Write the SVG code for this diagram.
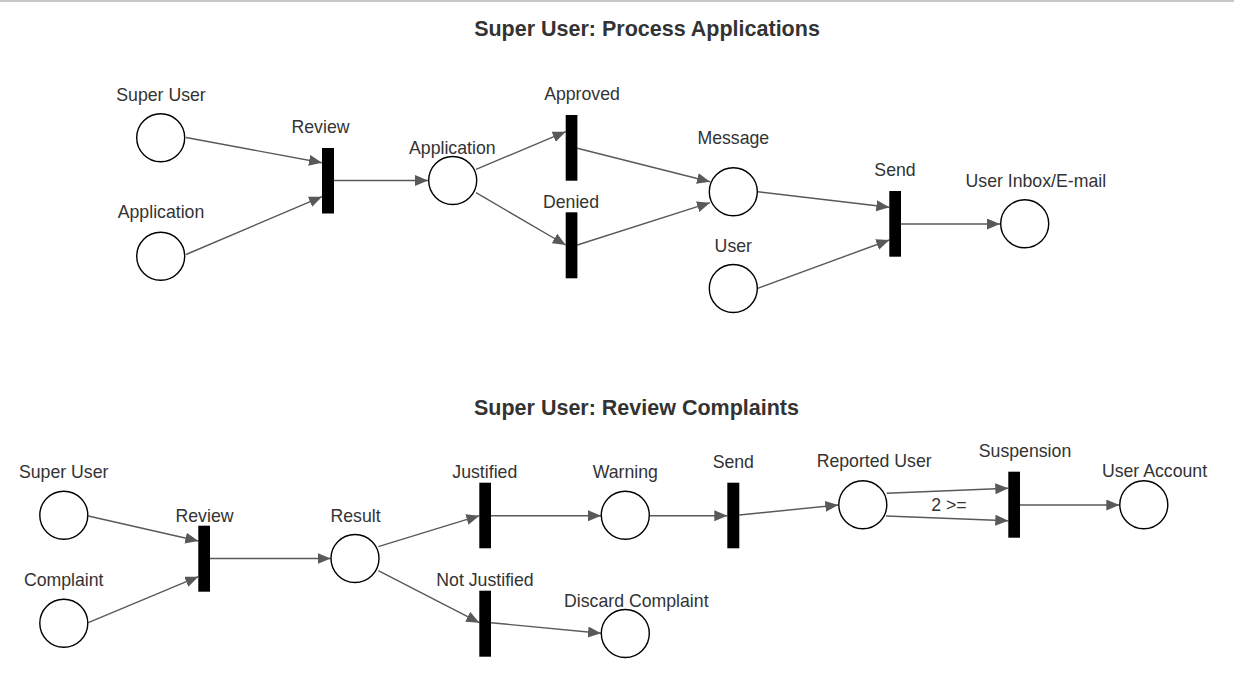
<svg xmlns="http://www.w3.org/2000/svg" width="1234" height="677" viewBox="0 0 1234 677">
<style>
.bg{fill:#ffffff}
.place{fill:#ffffff;stroke:#000000;stroke-width:1.4}
.trans{fill:#000000;stroke:none}
.lbl{font-family:"Liberation Sans",Arial,sans-serif;font-size:17.7px;fill:#333333;text-anchor:middle}
.title{font-family:"Liberation Sans",Arial,sans-serif;font-size:21.5px;font-weight:bold;fill:#333333;text-anchor:middle}
.arc{fill:none;stroke:#595959;stroke-width:1.4;marker-end:url(#arr)}
</style>
<defs>
<marker id="arr" markerUnits="userSpaceOnUse" markerWidth="14" markerHeight="12" refX="13" refY="5.5" orient="auto">
<path d="M0,0 L13,5.5 L0,11 z" fill="#595959"/>
</marker>
</defs>
<rect class="bg" x="0" y="0" width="1234" height="677"/>
<rect x="0" y="0" width="1234" height="2" fill="#c8c8c8"/>

<text class="title" x="647" y="36">Super User: Process Applications</text>
<text class="title" x="636.5" y="415">Super User: Review Complaints</text>

<g id="connectors">
<line class="arc" x1="186" y1="137.5" x2="322" y2="162.7"/>
<line class="arc" x1="186" y1="254.5" x2="322" y2="196.7"/>
<line class="arc" x1="334" y1="180.5" x2="428" y2="180.5"/>
<line class="arc" x1="476" y1="169.3" x2="565.7" y2="131.7"/>
<line class="arc" x1="476" y1="192.7" x2="565.7" y2="245"/>
<line class="arc" x1="577.3" y1="148.3" x2="710" y2="181.7"/>
<line class="arc" x1="577.3" y1="245" x2="710" y2="202.7"/>
<line class="arc" x1="757.7" y1="191.7" x2="889.3" y2="207.3"/>
<line class="arc" x1="757.7" y1="288.3" x2="889.3" y2="240"/>
<line class="arc" x1="901" y1="224" x2="1000" y2="224"/>

<line class="arc" x1="88.3" y1="516" x2="198.3" y2="541"/>
<line class="arc" x1="88.3" y1="622.7" x2="198.3" y2="576.7"/>
<line class="arc" x1="210" y1="558.5" x2="330.7" y2="558.5"/>
<line class="arc" x1="378.3" y1="546.7" x2="479.3" y2="515.7"/>
<line class="arc" x1="378.3" y1="570.7" x2="479.3" y2="622.7"/>
<line class="arc" x1="491" y1="515.7" x2="601" y2="515.7"/>
<line class="arc" x1="649.7" y1="515.7" x2="727.3" y2="515.7"/>
<line class="arc" x1="491" y1="622.7" x2="601" y2="633.3"/>
<line class="arc" x1="739.3" y1="515" x2="838.3" y2="505"/>
<line class="arc" x1="886.7" y1="493.3" x2="1008.3" y2="488.3"/>
<line class="arc" x1="886" y1="516" x2="1008.3" y2="520.7"/>
<line class="arc" x1="1020" y1="505" x2="1119.3" y2="505"/>
<text class="lbl" x="949" y="510.7">2 &gt;=</text>
</g>

<!-- Top net -->
<g id="p-superuser1"><circle class="place" cx="160.7" cy="137.7" r="24"/><text class="lbl" x="161" y="100.7">Super User</text></g>
<g id="p-application1"><circle class="place" cx="160.7" cy="256.2" r="24"/><text class="lbl" x="161" y="218.3">Application</text></g>
<g id="t-review1"><rect class="trans" x="322" y="148" width="12" height="65.5"/><text class="lbl" x="320.5" y="133.3">Review</text></g>
<g id="p-application2"><circle class="place" cx="452.7" cy="180.5" r="24"/><text class="lbl" x="452.3" y="154">Application</text></g>
<g id="t-approved"><rect class="trans" x="565.7" y="115" width="11.7" height="65.7"/><text class="lbl" x="582" y="100">Approved</text></g>
<g id="t-denied"><rect class="trans" x="565.7" y="212.3" width="11.7" height="66"/><text class="lbl" x="571" y="207.7">Denied</text></g>
<g id="p-message"><circle class="place" cx="733.3" cy="191.7" r="24"/><text class="lbl" x="733.3" y="144">Message</text></g>
<g id="p-user"><circle class="place" cx="733.3" cy="288.5" r="24"/><text class="lbl" x="733.3" y="251.7">User</text></g>
<g id="t-send1"><rect class="trans" x="889.3" y="191" width="11.7" height="65.7"/><text class="lbl" x="895" y="175.7">Send</text></g>
<g id="p-inbox"><circle class="place" cx="1024.7" cy="223.8" r="24"/><text class="lbl" x="1035.8" y="186.7">User Inbox/E-mail</text></g>

<!-- Bottom net -->
<g id="p-superuser2"><circle class="place" cx="63.8" cy="515.3" r="24"/><text class="lbl" x="63.7" y="478.3">Super User</text></g>
<g id="p-complaint"><circle class="place" cx="63.8" cy="623.3" r="24"/><text class="lbl" x="63.7" y="585.7">Complaint</text></g>
<g id="t-review2"><rect class="trans" x="198.3" y="525.7" width="11.7" height="66"/><text class="lbl" x="204.5" y="521.7">Review</text></g>
<g id="p-result"><circle class="place" cx="355" cy="558.5" r="24"/><text class="lbl" x="355.5" y="521.7">Result</text></g>
<g id="t-justified"><rect class="trans" x="479.3" y="482.7" width="11.7" height="65.6"/><text class="lbl" x="484.8" y="477.7">Justified</text></g>
<g id="t-notjustified"><rect class="trans" x="479.3" y="590.7" width="11.7" height="66"/><text class="lbl" x="485" y="585.7">Not Justified</text></g>
<g id="p-warning"><circle class="place" cx="625.3" cy="515.3" r="24"/><text class="lbl" x="625.3" y="477.7">Warning</text></g>
<g id="p-discard"><circle class="place" cx="625.3" cy="633.5" r="24"/><text class="lbl" x="636.3" y="606.7">Discard Complaint</text></g>
<g id="t-send2"><rect class="trans" x="727.3" y="482.7" width="12" height="65.6"/><text class="lbl" x="733.3" y="467.7">Send</text></g>
<g id="p-reported"><circle class="place" cx="862.8" cy="504.7" r="24"/><text class="lbl" x="874.2" y="467.3">Reported User</text></g>
<g id="t-suspension"><rect class="trans" x="1008.3" y="471.7" width="11.7" height="66"/><text class="lbl" x="1025" y="456.7">Suspension</text></g>
<g id="p-account"><circle class="place" cx="1143.8" cy="504.7" r="24"/><text class="lbl" x="1154.5" y="477.3">User Account</text></g>
</svg>
